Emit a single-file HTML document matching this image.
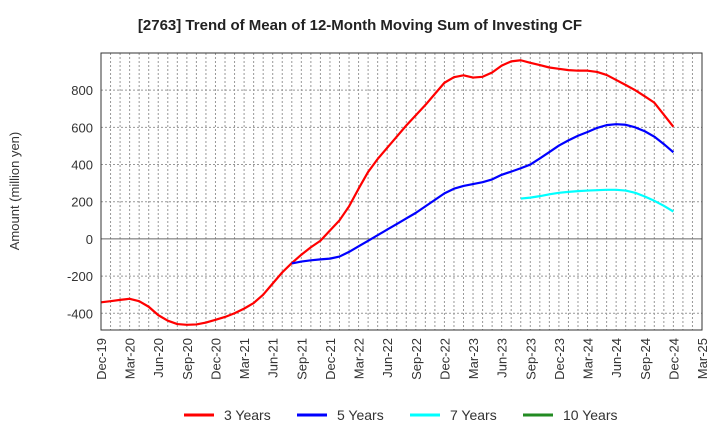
<!DOCTYPE html>
<html><head><meta charset="utf-8"><style>
body{margin:0;background:#fff}
svg text{font-family:"Liberation Sans",sans-serif}
</style></head><body>
<svg width="720" height="440" viewBox="0 0 720 440" xmlns="http://www.w3.org/2000/svg">
<text x="360" y="30" text-anchor="middle" font-size="15" font-weight="bold" fill="#222">[2763]  Trend of Mean of 12-Month Moving Sum of Investing CF</text>
<text transform="translate(19,191) rotate(-90)" text-anchor="middle" font-size="13" fill="#333">Amount (million yen)</text>
<g id="grid"></g><g id="series"></g><g id="axes"></g>
<g font-size="14" fill="#333">
<line x1="184" y1="415" x2="214" y2="415" stroke="#f00" stroke-width="3"/><text x="224" y="420">3 Years</text>
<line x1="297" y1="415" x2="327" y2="415" stroke="#00f" stroke-width="3"/><text x="337" y="420">5 Years</text>
<line x1="410" y1="415" x2="440" y2="415" stroke="#0ff" stroke-width="3"/><text x="450" y="420">7 Years</text>
<line x1="523" y1="415" x2="553" y2="415" stroke="#228b22" stroke-width="3"/><text x="563" y="420">10 Years</text>
</g>
</svg>
<script>
const xTickLabels=["Dec-19","Mar-20","Jun-20","Sep-20","Dec-20","Mar-21","Jun-21","Sep-21","Dec-21","Mar-22","Jun-22","Sep-22","Dec-22","Mar-23","Jun-23","Sep-23","Dec-23","Mar-24","Jun-24","Sep-24","Dec-24","Mar-25"];
const yTicks=[-400,-200,0,200,400,600,800];
const y3Start=0;
const y3=[-341,-335,-328,-322,-335,-365,-410,-440,-458,-462,-460,-450,-435,-420,-400,-375,-345,-300,-240,-180,-130,-85,-45,-10,45,100,175,270,360,430,490,550,610,665,720,780,840,870,880,868,872,895,932,955,961,947,935,922,915,908,905,905,898,882,855,828,800,767,733,668,603];
const y5Start=20;
const y5=[-132,-122,-115,-110,-106,-95,-70,-40,-10,20,50,80,110,140,175,210,245,270,285,295,305,320,345,362,380,400,433,467,502,530,555,575,597,612,617,614,600,579,550,510,466];
const y7Start=44;
const y7=[217,222,230,240,248,253,257,260,262,264,264,260,248,228,205,178,147];
const y10Start=0;
const y10=[];
const L=101,R=702,T=53,B=330,yMin=-490,yMax=1000,months=63;
const X=m=>L+(R-L)*m/months;
const Y=v=>B-(v-yMin)/(yMax-yMin)*(B-T);
const NS="http://www.w3.org/2000/svg";
function mk(t,a,p){const e=document.createElementNS(NS,t);for(const k in a)e.setAttribute(k,a[k]);p.appendChild(e);return e;}
const grid=document.getElementById('grid'),axes=document.getElementById('axes'),ser=document.getElementById('series');
for(let m=1;m<months;m++){const l=mk('line',{x1:X(m),x2:X(m),y1:T,y2:B,stroke:'#999','stroke-width':1,'stroke-dasharray':'2,2'},grid);

}
yTicks.forEach(v=>{const l=mk('line',{x1:L,x2:R,y1:Y(v),y2:Y(v),stroke:v===0?'#666':'#999','stroke-width':1,'stroke-dasharray':v===0?'':'2,2'},grid);


const t=mk('text',{x:L-8,y:Y(v)+5,'text-anchor':'end','font-size':13,fill:'#333'},axes);t.textContent=v;

});
xTickLabels.forEach((s,i)=>{const x=X(i*3);const t=mk('text',{transform:`translate(${x+5},${B+8}) rotate(-90)`,'text-anchor':'end','font-size':13,fill:'#333'},axes);t.textContent=s;

});
const fr=mk('rect',{x:L,y:T,width:R-L,height:B-T,fill:'none',stroke:'#333','stroke-width':1},axes);


function line(arr,start,col,name){if(!arr.length)return;const p=mk('polyline',{points:arr.map((v,i)=>X(start+i)+','+Y(v)).join(' '),fill:'none',stroke:col,'stroke-width':2.2,'stroke-linejoin':'round'},ser);

}
line(y3,y3Start,'#f00','series-3-years');
line(y5,y5Start,'#00f','series-5-years');
line(y7,y7Start,'#0ff','series-7-years');
line(y10,y10Start,'#228b22','series-10-years');
</script>
</body></html>
